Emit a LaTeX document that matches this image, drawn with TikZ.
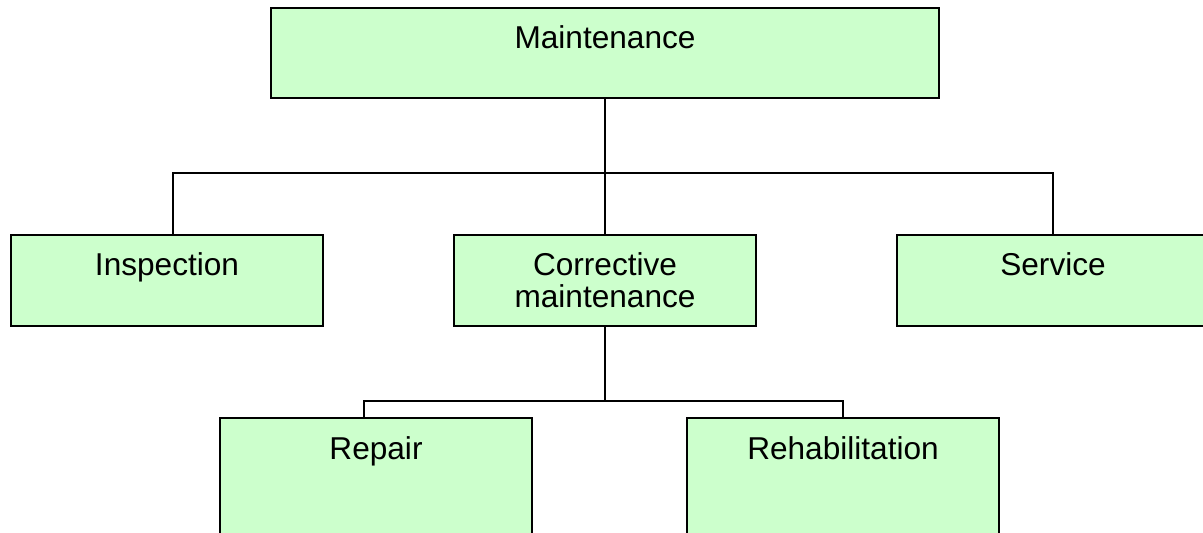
\documentclass[tikz,border=0pt]{standalone}
\usepackage{fontspec}
\setmainfont{Liberation Sans}
\usetikzlibrary{positioning}

\definecolor{boxgreen}{RGB}{204,255,204}

\tikzset{
  orgbox/.style={draw=black, line width=1pt, fill=boxgreen, inner sep=0pt,
    anchor=north west, minimum width=156pt, align=center,
    font=\fontsize{15.8}{16}\selectfont},
  toptext/.style={text height=20.5pt, text depth=#1},
  link/.style={draw=black, line width=0.8pt},
}

\begin{document}
\begin{tikzpicture}[x=0.5pt,y=0.5pt,yscale=-1,xscale=1]
\clip (0,0) rectangle (1203,533);
\fill[white] (0,0) rectangle (1203,533);

% top level
\node[orgbox, toptext=24.5pt, minimum width=334pt] (maint) at (270,7) {Maintenance};

% second level
\node[orgbox, toptext=25pt] (insp) at (10,234) {Inspection};
\node[orgbox, minimum width=151pt, minimum height=45.5pt] (corr) at (453,234) {Corrective\\maintenance};
\node[orgbox, toptext=25pt] (serv) at (896,234) {Service};

% third level
\node[orgbox, toptext=60pt] (rep) at (219,417) {Repair};
\node[orgbox, toptext=60pt] (rehab) at (686,417) {Rehabilitation};

% connectors (y axis flipped, so yshift goes down)
\coordinate (bus1) at ([yshift=37pt]maint.south);
\coordinate (bus2) at ([yshift=37pt]corr.south);
\draw[link] (maint.south) -- (maint.south |- corr.north);
\draw[link] ([xshift=3pt]insp.north) |- (bus1) -| (serv.north);
\draw[link] (corr.south) -- (bus2);
\draw[link] ([xshift=-6pt]rep.north) |- (bus2) -| (rehab.north);

\end{tikzpicture}
\end{document}
